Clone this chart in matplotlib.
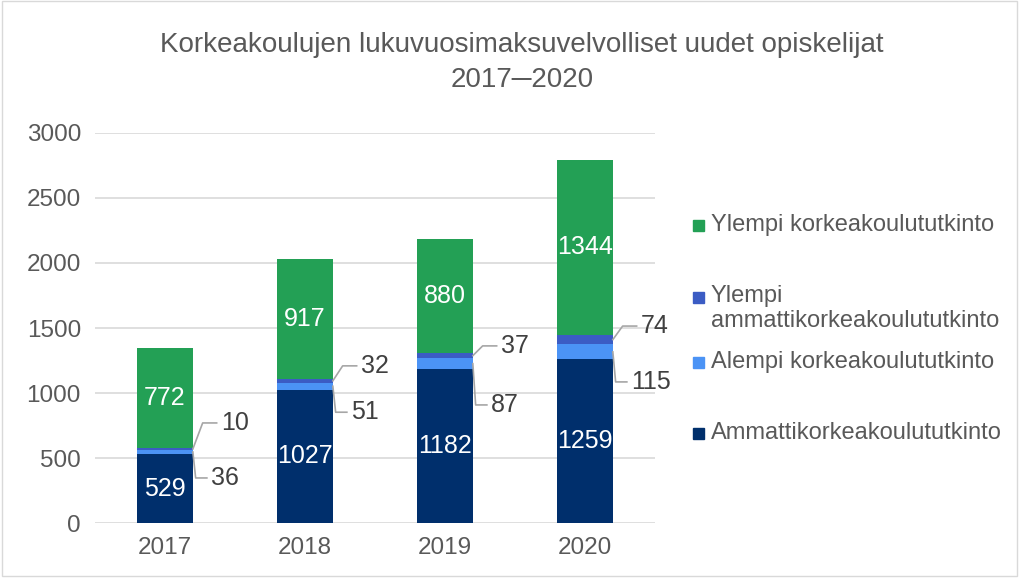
import matplotlib.pyplot as plt
from matplotlib.patches import Rectangle

plt.rcParams['font.family'] = ['Liberation Sans', 'DejaVu Sans']

years = ['2017', '2018', '2019', '2020']
amk = [529, 1027, 1182, 1259]
alempi = [36, 51, 87, 115]
ylempi_amk = [10, 32, 37, 74]
ylempi = [772, 917, 880, 1344]

series = [
    ('Ammattikorkeakoulututkinto', amk, '#002F6C'),
    ('Alempi korkeakoulututkinto', alempi, '#4B93F5'),
    ('Ylempi\nammattikorkeakoulututkinto', ylempi_amk, '#3B5CC4'),
    ('Ylempi korkeakoulututkinto', ylempi, '#23A055'),
]

# label offsets for the small segments (data units above/below segment middle)
top_off = [200, 115, 75, 104]
low_off = [-200, -200, -317, -231]

grey = '#595959'
fig = plt.figure(figsize=(10.2, 5.78), dpi=100)
ax = fig.add_axes([0.093, 0.095, 0.549, 0.675])

x = list(range(len(years)))
width = 0.4
bottom = [0] * len(years)
mids = {}
for name, vals, color in series:
    ax.bar(x, vals, width, bottom=bottom, color=color, zorder=2)
    mids[name] = [b + v / 2 for b, v in zip(bottom, vals)]
    bottom = [b + v for b, v in zip(bottom, vals)]

# labels inside the big segments
for i in x:
    ax.text(i, mids['Ammattikorkeakoulututkinto'][i], str(amk[i]), color='white',
            ha='center', va='center', fontsize=18, zorder=3)
    ax.text(i, mids['Ylempi korkeakoulututkinto'][i], str(ylempi[i]), color='white',
            ha='center', va='center', fontsize=18, zorder=3)

# callouts for the thin segments
edge = width / 2
for i in x:
    m_top = mids['Ylempi\nammattikorkeakoulututkinto'][i]
    m_low = mids['Alempi korkeakoulututkinto'][i]
    ty = m_top + top_off[i]
    ly = m_low + low_off[i]
    ax.plot([i + edge, i + edge + 0.07, i + edge + 0.17], [m_top, ty, ty],
            color='#A6A6A6', lw=1.2, zorder=3, clip_on=False)
    ax.plot([i + edge, i + edge + 0.02, i + edge + 0.1], [m_low, ly, ly],
            color='#A6A6A6', lw=1.2, zorder=3, clip_on=False)
    ax.text(i + edge + 0.2, ty, str(ylempi_amk[i]), color='#404040',
            ha='left', va='center', fontsize=18, zorder=3)
    ax.text(i + edge + 0.13, ly, str(alempi[i]), color='#404040',
            ha='left', va='center', fontsize=18, zorder=3)

ax.set_xlim(-0.5, 3.5)
ax.set_ylim(0, 3000)
ax.set_yticks(range(0, 3001, 500))
ax.set_xticks(x)
ax.set_xticklabels(years)
ax.tick_params(colors=grey, labelsize=17.5, length=0, pad=10)
ax.grid(axis='y', color='#D9D9D9', lw=1.2, zorder=0)
for s in ax.spines.values():
    s.set_visible(False)

fig.text(0.512, 0.922, 'Korkeakoulujen lukuvuosimaksuvelvolliset uudet opiskelijat',
         ha='center', va='center', fontsize=20, color=grey)
fig.text(0.512, 0.862, '2017\u25002020', ha='center', va='center', fontsize=20,
         color=grey, family=['Liberation Sans', 'DejaVu Sans'])

# legend, drawn by hand to keep Excel's uneven spacing
leg_y = [225, 297, 362, 433]
leg_items = [series[3], series[2], series[1], series[0]]
for (name, vals, color), py in zip(leg_items, leg_y):
    fy = 1 - py / 578
    fig.add_artist(Rectangle((693 / 1020, fy - 5.5 / 578), 11 / 1020, 11 / 578,
                             transform=fig.transFigure, color=color))
    if '\n' in name:
        fig.text(711 / 1020, fy + 12 / 578, name, ha='left', va='top',
                 fontsize=17, color=grey, linespacing=1.15)
    else:
        fig.text(711 / 1020, fy, name, ha='left', va='center',
                 fontsize=17, color=grey)

fig.add_artist(Rectangle((0.002, 0.004), 0.995, 0.994, transform=fig.transFigure,
                         fill=False, edgecolor='#D9D9D9', lw=1))

fig.savefig('out.png', dpi=100)
